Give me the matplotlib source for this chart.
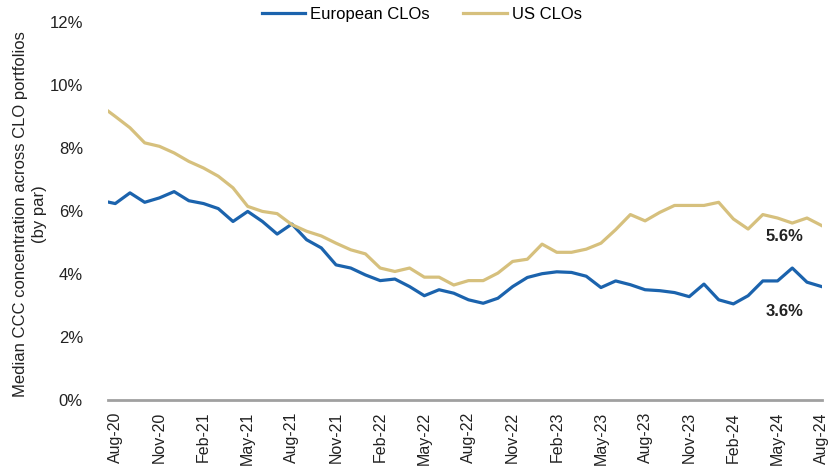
import matplotlib
matplotlib.use("Agg")
import matplotlib.pyplot as plt
import numpy as np
import pandas as pd

# monthly medians, Jul-20 .. Aug-24 (Jul-20 sits just off the left edge)
months = pd.period_range("2020-07", "2024-08", freq="M")
euro = [6.33, 6.23, 6.57, 6.27, 6.41, 6.61, 6.32, 6.23, 6.07, 5.66,
        5.98, 5.66, 5.26, 5.58, 5.08, 4.82, 4.28, 4.18, 3.96, 3.78,
        3.83, 3.59, 3.30, 3.49, 3.38, 3.17, 3.06, 3.22, 3.59, 3.88,
        4.00, 4.06, 4.04, 3.92, 3.56, 3.77, 3.65, 3.49, 3.46, 3.40,
        3.27, 3.67, 3.17, 3.04, 3.30, 3.77, 3.77, 4.18, 3.73, 3.59]
us = [9.35, 9.00, 8.64, 8.16, 8.05, 7.84, 7.57, 7.36, 7.10, 6.73,
      6.14, 5.98, 5.91, 5.56, 5.35, 5.20, 4.97, 4.76, 4.63, 4.18,
      4.07, 4.18, 3.89, 3.89, 3.64, 3.78, 3.78, 4.02, 4.39, 4.46,
      4.94, 4.68, 4.68, 4.78, 4.97, 5.40, 5.88, 5.68, 5.95, 6.17,
      6.17, 6.17, 6.27, 5.74, 5.42, 5.88, 5.77, 5.61, 5.77, 5.53]
tick_labels = ["Aug-20", "Nov-20", "Feb-21", "May-21", "Aug-21", "Nov-21",
               "Feb-22", "May-22", "Aug-22", "Nov-22", "Feb-23", "May-23",
               "Aug-23", "Nov-23", "Feb-24", "May-24", "Aug-24"]

blue = "#1b63ad"
gold = "#d6c07d"
narrow = ["Liberation Sans Narrow", "Liberation Sans", "DejaVu Sans"]
arial = ["Liberation Sans", "DejaVu Sans"]

x = np.arange(len(months)) - 1  # Aug-20 -> 0

fig = plt.figure(figsize=(8.3, 4.7), dpi=100)
ax = fig.add_axes([0.130, 0.150, 0.860, 0.803])

ax.plot(x, euro, color=blue, lw=2.3, label="European CLOs", solid_joinstyle="round")
ax.plot(x, us, color=gold, lw=2.3, label="US CLOs", solid_joinstyle="round")

ax.set_xlim(-0.5, 48)
ax.set_ylim(0, 12)
ax.set_yticks(range(0, 13, 2))
ax.set_yticklabels([f"{v}%" for v in range(0, 13, 2)], family=narrow, fontsize=12, color="#222222")
ax.set_xticks(range(0, 49, 3))
ax.set_xticklabels(tick_labels, rotation=90, family=arial, fontsize=11.5, color="#222222")
ax.tick_params(axis="both", length=0)
ax.tick_params(axis="y", pad=18)
ax.tick_params(axis="x", pad=9)

for s in ["top", "right", "left"]:
    ax.spines[s].set_visible(False)
ax.spines["bottom"].set_color("#a0a0a0")
ax.spines["bottom"].set_linewidth(2)

fig.text(0.036, 0.545, "Median CCC concentration across CLO portfolios\n(by par)",
         rotation=90, ha="center", va="center", family=arial, fontsize=12,
         color="#222222", linespacing=1.3)

ax.text(45.5, us[-1] - 0.1, "5.6%", fontsize=12, fontweight="bold", color="#222222",
        family=arial, ha="center", va="top")
ax.text(45.5, euro[-1] - 0.55, "3.6%", fontsize=12, fontweight="bold", color="#222222",
        family=arial, ha="center", va="top")

ax.legend(loc="upper center", bbox_to_anchor=(0.44, 1.08), ncol=2, frameon=False,
          prop={"family": narrow, "size": 12}, handlelength=2.6, columnspacing=2.0,
          handletextpad=0.3)

fig.savefig("out.png", dpi=100)
